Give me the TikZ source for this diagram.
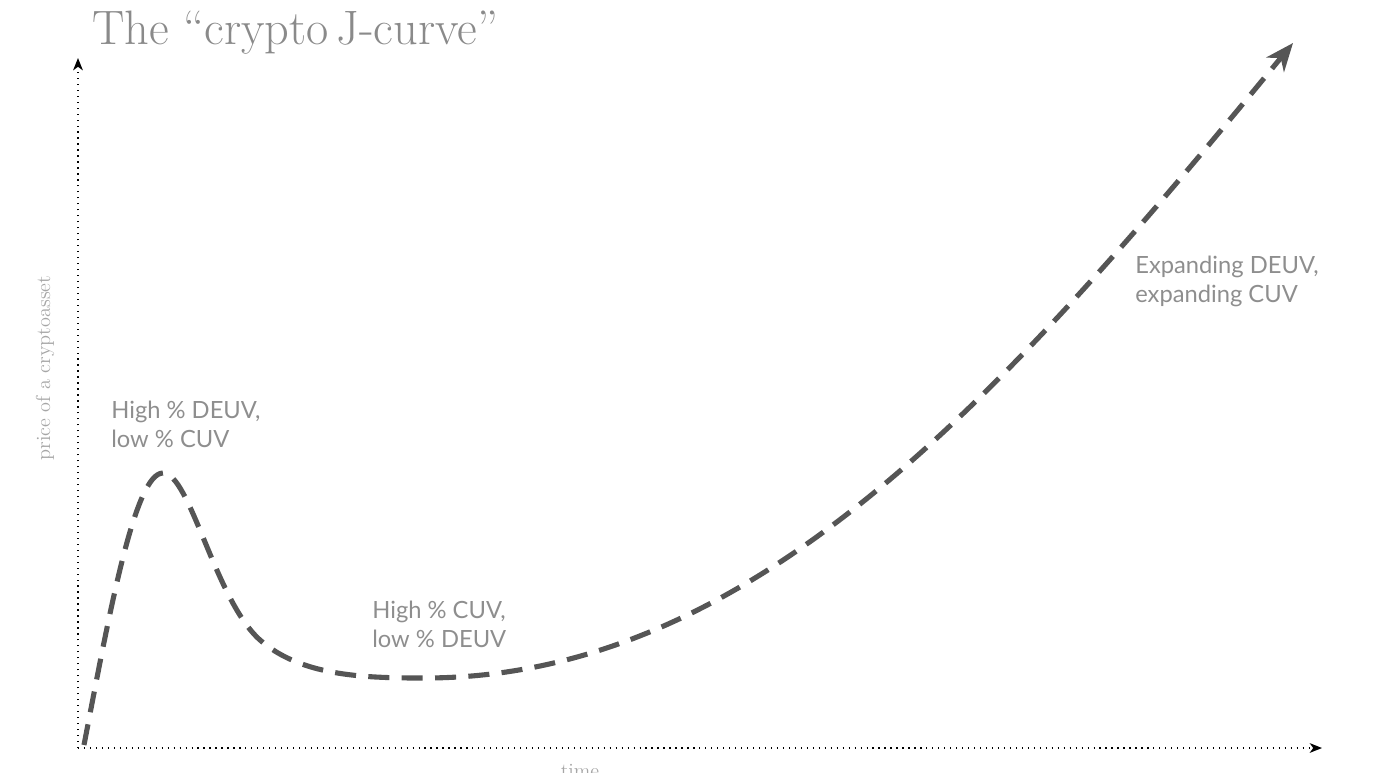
\documentclass[tikz,border=0pt]{standalone}
\usepackage{fontspec}
\usetikzlibrary{arrows.meta}
\newfontfamily\notefont{Lato}
\definecolor{notegray}{HTML}{8E8E8E}
\definecolor{titlegray}{HTML}{8A8A8A}
\definecolor{curvegray}{HTML}{555555}

\tikzset{
  axis/.style={black, line width=0.9pt, dash pattern=on 0.7pt off 2.7pt,
    -{Stealth[length=7pt, width=5.5pt, inset=2pt]}},
  jcurve/.style={curvegray, line width=2.9pt, dash pattern=on 12pt off 7pt,
    -{Stealth[length=16pt, width=13pt, inset=5pt]}},
  note/.style={notegray, inner sep=0pt, align=left, anchor=north west,
    font=\notefont\fontsize{13.5}{16.5}\selectfont},
}

\begin{document}
\begin{tikzpicture}[x=0.02cm, y=-0.02cm]
        \useasboundingbox (0,0) rectangle (1390,772);

        % axes
        \coordinate (origin) at (78,748);
        \coordinate (ytip) at (78,58);
        \coordinate (xtip) at (1322,748);
        \draw[axis] (origin) -- (ytip);
        \draw[axis] (origin) -- (xtip);

        \node[titlegray, inner sep=0pt, anchor=north west,
              font=\fontsize{27.5}{30}\selectfont] (title) at (92,11)
              {The \textquotedblleft crypto\,J-curve\textquotedblright};
        \node[gray!70, rotate=90, font=\fontsize{11.5}{13}\selectfont]
              (ylab) at (45,368) {price of a cryptoasset};
        \node[gray!70, anchor=north, inner sep=0pt,
              font=\fontsize{11.5}{13}\selectfont] (tlab) at (580,764) {time};

        % the curve
        \coordinate (start) at (84,745);
        \coordinate (peak) at (163,473);
        \coordinate (knee) at (260,640);
        \coordinate (dip) at (420,678);
        \coordinate (end) at (1293,43);
        \draw[jcurve] (start) .. controls (110,610) and (135,473) .. (peak)
              .. controls (190,473) and (215,600) .. (knee)
              .. controls (300,675) and (360,678) .. (dip)
              .. controls (750,680) and (1000,400) .. (end);

        % notes
        \node[note] (hype) at (111,401) {High \% DEUV,\\low \% CUV};
        \node[note] (trough) at (372,601) {High \% CUV,\\low \% DEUV};
        \node[note] (growth) at (1135,256) {Expanding DEUV,\\expanding CUV};
    \end{tikzpicture}
\end{document}
